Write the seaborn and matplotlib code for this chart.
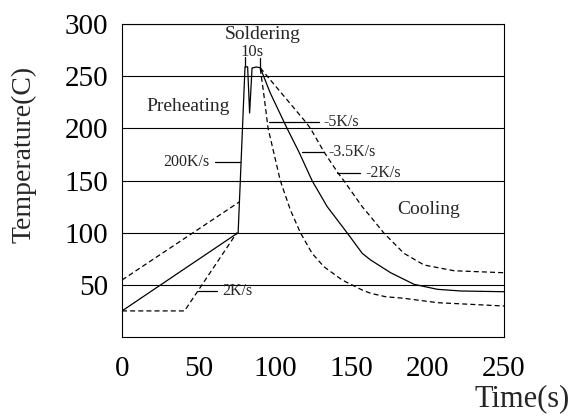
import matplotlib
matplotlib.use('Agg')
import matplotlib.pyplot as plt
import seaborn as sns

# Dados (tempo em s, temperatura em C)
# perfil principal (linha cheia), incluindo o resfriamento de -3.5K/s
x_solid = [0, 76, 80.5, 82.2, 83.5, 85.1, 87.9, 90.5, 97.1, 108.0, 115.7, 124.4, 134.3, 147.4,
           157.2, 162.7, 175.8, 191.1, 206.4, 221.7, 250]
y_solid = [25, 100, 259, 259, 214.7, 257.8, 258.8, 258, 233.6, 200, 177.6, 149.8, 124.9, 99.7,
           80.2, 73.8, 61.6, 50.5, 45.7, 44.1, 43.4]

# pre-aquecimento tracejado
x_pre_low = [0, 40.9, 75.2]
y_pre_low = [25, 25, 100]

x_pre_high = [0, 77]
y_pre_high = [54.6, 129.7]

# resfriamento -5K/s
x_cool_fast = [90.5, 92.7, 95.6, 103.6, 110.2, 116.8, 124.4, 132.1, 144.1, 157.2, 162.7, 172.5,
               184.5, 206.4, 250]
y_cool_fast = [257, 233.6, 200, 149.8, 121.7, 99.7, 80.2, 67.4, 54.6, 45, 41.9, 38.6,
               37.1, 32.9, 29.7]

# resfriamento -2K/s
x_cool_slow = [90.5, 94.9, 120, 123.3, 132.1, 141.5, 145.2, 157.2, 162.7, 171.4, 184.5, 197.7,
               217.3, 250]
y_cool_slow = [258, 250.2, 206.4, 200, 177.6, 156.9, 149.8, 124.9, 115.3, 99.6, 80.2, 69,
               63.5, 61.6]

x_ticks = [0, 50, 100, 150, 200, 250]
y_ticks = [50, 100, 150, 200, 250, 300]

# Rotulos das taxas: texto, x do texto, y, inicio e fim da linha de chamada
rate_labels = ['200K/s', '-5K/s', '-3.5K/s', '-2K/s', '2K/s']
rate_text_x = [57.1, 131.9, 135.1, 159.0, 65.4]
rate_y = [168, 206.4, 177.6, 157.5, 44.4]
leader_x0 = [61, 96.5, 117.9, 140.8, 50]
leader_x1 = [77.3, 128.6, 132, 155.7, 62]

sns.set_theme(style='white')
plt.rcParams['font.family'] = ['Liberation Serif', 'DejaVu Serif']

fig = plt.figure(figsize=(5.71, 4.19), dpi=100)
ax = fig.add_axes([0.2137, 0.1957, 0.669, 0.747])

dash = (0, (4, 2.5))
sns.lineplot(x=x_solid, y=y_solid, ax=ax, color='black', lw=0.9, estimator=None, sort=False)
sns.lineplot(x=x_pre_low, y=y_pre_low, ax=ax, color='black', lw=0.9, linestyle=dash, estimator=None, sort=False)
sns.lineplot(x=x_pre_high, y=y_pre_high, ax=ax, color='black', lw=0.9, linestyle=dash, estimator=None, sort=False)
sns.lineplot(x=x_cool_fast, y=y_cool_fast, ax=ax, color='black', lw=0.9, linestyle=dash, estimator=None, sort=False)
sns.lineplot(x=x_cool_slow, y=y_cool_slow, ax=ax, color='black', lw=0.9, linestyle=dash, estimator=None, sort=False)

# Linhas de chamada e rotulos
for i in range(len(rate_labels)):
    ax.plot([leader_x0[i], leader_x1[i]], [rate_y[i], rate_y[i]], color='black', lw=0.9)
    ha = 'right' if i == 0 else 'left'
    ax.text(rate_text_x[i], rate_y[i], rate_labels[i], ha=ha, va='center', fontsize=11.5)

# Marcacao de 10s
ax.plot([80.5, 80.5], [259, 268], color='black', lw=0.9)
ax.plot([90.5, 90.5], [258, 267], color='black', lw=0.9)
ax.text(85.1, 273, '10s', ha='center', va='center', fontsize=12)
ax.text(92, 290.4, 'Soldering', ha='center', va='center', fontsize=14)
ax.text(16.2, 220.7, 'Preheating', ha='left', va='center', fontsize=14)
ax.text(180.2, 122.4, 'Cooling', ha='left', va='center', fontsize=14)

ax.set_xlim(0, 250)
ax.set_ylim(0, 300)
ax.set_xticks(x_ticks)
ax.set_yticks(y_ticks)
ax.tick_params(length=0, labelsize=21, colors='black')
ax.tick_params(axis='x', pad=14)
ax.tick_params(axis='y', pad=10)
ax.grid(axis='y', color='black', lw=0.8)
ax.grid(axis='x', visible=False)
for s in ax.spines.values():
    s.set_color('black')
    s.set_linewidth(0.8)

fig.text(24 / 571, 1 - 154 / 419, 'Temperature(C)', rotation=90, ha='center', va='center', fontsize=20)
fig.text(0.997, 1 - 399 / 419, 'Time(s)', ha='right', va='center', fontsize=22)

fig.savefig('out.png', dpi=100)
